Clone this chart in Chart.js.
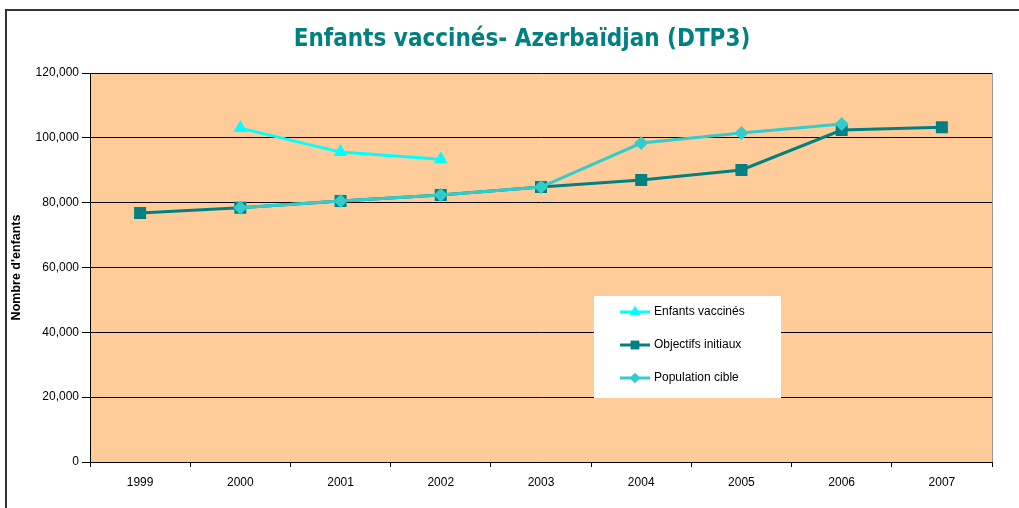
<!DOCTYPE html>
<html>
<head>
<meta charset="utf-8">
<script src="https://cdn.jsdelivr.net/npm/chart.js@4.4.1/dist/chart.umd.min.js"></script>
<style>
    html, body { margin: 0; padding: 0; background: #fff; }
    #wrap { position: relative; width: 1019px; height: 508px; }
    #frame {
        position: absolute; left: 5px; top: 9px; right: -10px; bottom: -10px;
        border-left: 2px solid #333; border-top: 2px solid #333;
    }
    canvas { position: absolute; left: 0; top: 0; }
</style>
</head>
<body>
<div id="wrap">
    <div id="frame"></div>
    <canvas id="chart" width="1019" height="508"></canvas>
</div>
<script>
// Data
const years = ["1999", "2000", "2001", "2002", "2003", "2004", "2005", "2006", "2007"];
const enfantsVaccines = [null, 103000, 95600, 93400, null, null, null, null, null];
const objectifsInitiaux = [76800, 78400, 80500, 82400, 84800, 87000, 90100, 102400, 103300];
const populationCible = [null, 78400, 80500, 82400, 84800, 98400, 101500, 104300, null];
const yTicks = [0, 20000, 40000, 60000, 80000, 100000, 120000];

const titleText = "Enfants vaccinés- Azerbaïdjan (DTP3)";
const fontFamily = "'Liberation Sans', Arial, sans-serif";

const legendItems = [
    { label: "Enfants vaccinés", color: "#00ffff", style: "triangle", radius: 6 },
    { label: "Objectifs initiaux", color: "#008080", style: "rect", radius: 6 },
    { label: "Population cible", color: "#33cccc", style: "rectRot", radius: 5 }
];

// Peach plot background + title
const plotBackground = {
    id: "plotBackground",
    beforeDraw(chart) {
        const { ctx, chartArea: a } = chart;
        ctx.save();
        ctx.fillStyle = "#ffcc99";
        ctx.fillRect(a.left, a.top, a.right - a.left, a.bottom - a.top);
        ctx.strokeStyle = "#999";
        ctx.lineWidth = 1;
        ctx.beginPath();
        ctx.moveTo(a.right + 0.5, a.top);
        ctx.lineTo(a.right + 0.5, a.bottom);
        ctx.stroke();

        ctx.fillStyle = "#008080";
        ctx.font = "bold 24px 'DejaVu Sans Condensed', 'DejaVu Sans', sans-serif";
        ctx.textAlign = "center";
        ctx.textBaseline = "middle";
        ctx.fillText(titleText, 522, 40);
        ctx.restore();
    }
};

// Boxed legend inside the plot, like the Excel original
const boxLegend = {
    id: "boxLegend",
    afterDatasetsDraw(chart) {
        const { ctx } = chart;
        const x = 594, y = 296, w = 187, h = 102;
        ctx.save();
        ctx.fillStyle = "#fff";
        ctx.fillRect(x, y, w, h);
        ctx.font = "12px " + fontFamily;
        ctx.textBaseline = "middle";
        legendItems.forEach((it, i) => {
            const cy = y + 16 + i * 33;
            ctx.strokeStyle = it.color;
            ctx.lineWidth = 3;
            ctx.beginPath();
            ctx.moveTo(x + 26, cy);
            ctx.lineTo(x + 56, cy);
            ctx.stroke();
            ctx.fillStyle = it.color;
            Chart.helpers.drawPoint(ctx, { pointStyle: it.style, radius: it.radius, borderWidth: 0 }, x + 41, cy);
            ctx.fill();
            ctx.fillStyle = "#000";
            ctx.fillText(it.label, x + 60, cy);
        });
        ctx.restore();
    }
};

new Chart(document.getElementById("chart"), {
    type: "line",
    data: {
        labels: years,
        datasets: [
            {
                label: "Enfants vaccinés",
                data: enfantsVaccines,
                borderColor: "#00ffff",
                backgroundColor: "#00ffff",
                borderWidth: 3,
                pointStyle: "triangle",
                pointRadius: 8,
                pointBorderWidth: 0,
                order: 0
            },
            {
                label: "Objectifs initiaux",
                data: objectifsInitiaux,
                borderColor: "#008080",
                backgroundColor: "#008080",
                borderWidth: 3,
                pointStyle: "rect",
                pointRadius: 8.5,
                pointBorderWidth: 0,
                order: 2
            },
            {
                label: "Population cible",
                data: populationCible,
                borderColor: "#33cccc",
                backgroundColor: "#33cccc",
                borderWidth: 3,
                pointStyle: "rectRot",
                pointRadius: 7,
                pointBorderWidth: 0,
                order: 1
            }
        ]
    },
    options: {
        responsive: false,
        animation: false,
        spanGaps: false,
        layout: { padding: { left: 9, right: 27, top: 73, bottom: 0 } },
        plugins: {
            legend: { display: false },
            tooltip: { enabled: false },
            title: { display: false }
        },
        scales: {
            x: {
                offset: true,
                grid: {
                    offset: true,
                    drawOnChartArea: false,
                    color: "#000",
                    tickLength: 5
                },
                border: { color: "#000", width: 1 },
                ticks: {
                    color: "#000",
                    font: { family: fontFamily, size: 12 },
                    padding: 8,
                    maxRotation: 0
                },
                afterFit(scale) { scale.height = 46; }
            },
            y: {
                min: 0,
                max: 120000,
                afterBuildTicks(scale) { scale.ticks = yTicks.map(v => ({ value: v })); },
                grid: { color: "#000", tickLength: 8 },
                border: { color: "#000", width: 1 },
                ticks: {
                    color: "#000",
                    font: { family: fontFamily, size: 12 },
                    padding: 3,
                    callback: v => v.toLocaleString("en-US")
                },
                title: {
                    display: true,
                    text: "Nombre d'enfants",
                    color: "#000",
                    font: { family: fontFamily, size: 12.5, weight: "bold" },
                    padding: { top: 0, bottom: 4 }
                },
                afterFit(scale) { scale.width = 81; }
            }
        }
    },
    plugins: [plotBackground, boxLegend]
});
</script>
</body>
</html>
